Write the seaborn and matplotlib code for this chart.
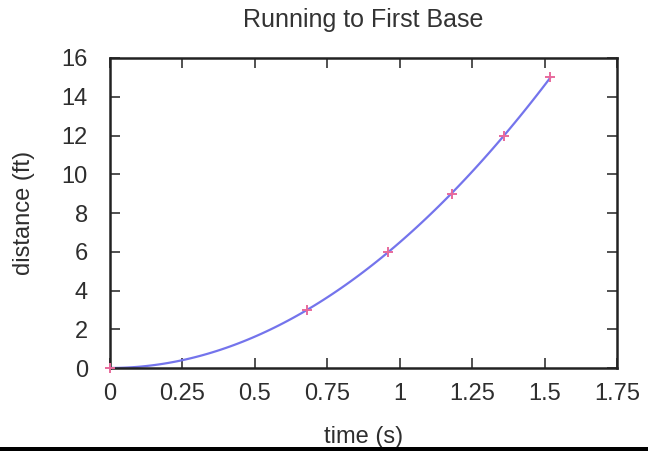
import pandas as pd
import numpy as np
import matplotlib
matplotlib.use("Agg")
import matplotlib.pyplot as plt
import seaborn as sns
from matplotlib.patches import Rectangle

# data
time_s = [0, 0.68, 0.96, 1.18, 1.36, 1.52]
distance_ft = [0, 3, 6, 9, 12, 15]
x_ticks = [0, 0.25, 0.5, 0.75, 1, 1.25, 1.5, 1.75]
x_tick_labels = ["0", "0.25", "0.5", "0.75", "1", "1.25", "1.5", "1.75"]
y_ticks = [0, 2, 4, 6, 8, 10, 12, 14, 16]

df = pd.DataFrame({"time": time_s, "distance": distance_ft})

sns.set_theme(style="ticks")
plt.rcParams['font.family'] = ['Liberation Sans', 'DejaVu Sans']

fig = plt.figure(figsize=(6.48, 4.51), dpi=100)
ax = fig.add_axes([0.1698, 0.184, 0.7824, 0.6874])

# fitted curve (quadratic) + measured points
sns.regplot(data=df, x="time", y="distance", order=2, ci=None, scatter=False,
            line_kws={"color": "#7474ec", "linewidth": 1.6}, ax=ax)
sns.scatterplot(data=df, x="time", y="distance", marker="+", s=45,
                color="#e86a9c", linewidth=1.4, clip_on=False, zorder=5, ax=ax)

ax.set_xlim(0, 1.75)
ax.set_ylim(0, 16)
ax.set_xticks(x_ticks)
ax.set_xticklabels(x_tick_labels)
ax.set_yticks(y_ticks)

for side in ax.spines.values():
    side.set_color("#222222")
    side.set_linewidth(1.8)
ax.tick_params(axis="both", direction="in", length=7, width=1.1, color="#222222",
               top=True, right=True, labelsize=17, labelcolor="#2e2e2e")
ax.tick_params(axis="x", pad=11)
ax.tick_params(axis="y", pad=16)

ax.set_title("Running to First Base", fontsize=18, color="#333333", pad=22)
ax.set_xlabel("time (s)", fontsize=17, color="#2e2e2e", labelpad=15)
ax.set_ylabel("distance (ft)", fontsize=17, color="#2e2e2e", labelpad=19)

# black strip along the bottom edge
fig.patches.append(Rectangle((0, 0), 1, 4.5 / 451, transform=fig.transFigure,
                             facecolor="black", edgecolor="none", zorder=10))

fig.savefig("out.png", dpi=100)
